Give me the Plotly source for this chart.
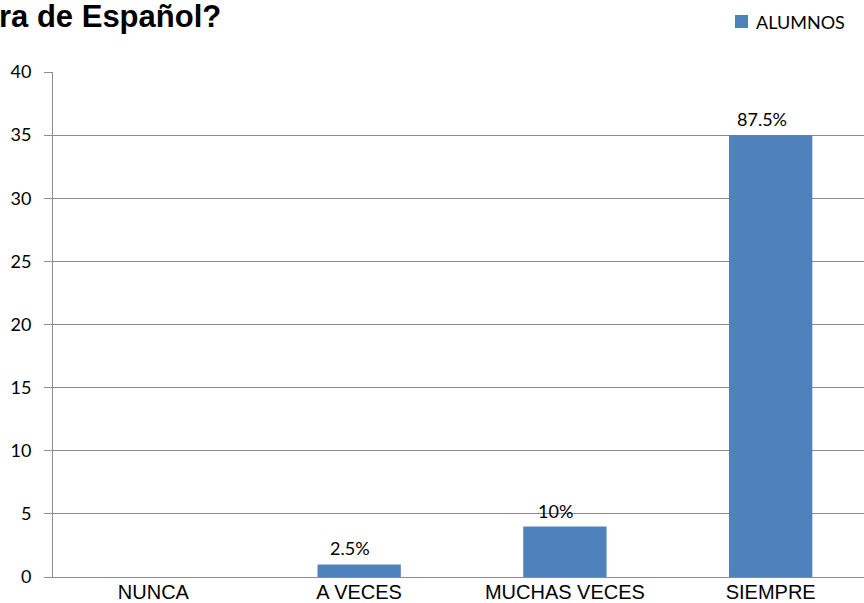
import plotly.graph_objects as go

categories = ["NUNCA", "A VECES", "MUCHAS VECES", "SIEMPRE"]
alumnos = [0, 1, 4, 35]
labels = ["", "2.5%", "10%", "87.5%"]
y_ticks = [0, 5, 10, 15, 20, 25, 30, 35, 40]
series_name = "ALUMNOS"
title_text = "ra de Español?"

W, H = 864, 603
L, R, T, B = 53, 0, 72, 26
PW, PH = W - L - R, H - T - B
BAR_COLOR = "#4F81BD"
GRID = "#8C8C8C"


def px(x):
    return (x - L) / PW


def py(y):
    return (H - B - y) / PH


fig = go.Figure()
fig.add_trace(go.Bar(
    x=list(range(len(categories))), y=alumnos, name=series_name,
    marker=dict(color=BAR_COLOR, line=dict(width=0)),
    width=0.405, showlegend=False,
))

annotations = []
for i, (v, lab) in enumerate(zip(alumnos, labels)):
    if lab:
        annotations.append(dict(
            x=i, y=v, xref="x", yref="y", text=lab, showarrow=False,
            xanchor="center", yanchor="bottom", yshift=3, xshift=-9,
            font=dict(family="Lato, Open Sans, sans-serif", size=18, color="#000000")))

# title (cut off on the left, as in the reference)
annotations.append(dict(
    text="<b>" + title_text + "</b>", xref="paper", yref="paper",
    x=px(0), y=py(17), xanchor="left", yanchor="middle", xshift=-3, showarrow=False,
    font=dict(family="Liberation Sans, Arial, sans-serif", size=31, color="#000000")))

# legend text
annotations.append(dict(
    text=series_name, xref="paper", yref="paper",
    x=px(754), y=py(22), xanchor="left", yanchor="middle", showarrow=False,
    font=dict(family="Lato, Open Sans, sans-serif", size=18, color="#000000")))

shapes = [dict(type="rect", xref="paper", yref="paper",
               x0=px(735), x1=px(748), y0=py(28), y1=py(15),
               fillcolor=BAR_COLOR, line=dict(width=0))]

fig.update_layout(
    width=W, height=H,
    margin=dict(l=L, r=R, t=T, b=B, autoexpand=False),
    plot_bgcolor="white", paper_bgcolor="white",
    showlegend=False,
    xaxis=dict(range=[-0.488, -0.488 + PW / 205.75], tickvals=list(range(len(categories))),
               ticktext=categories,
               showline=True, linecolor=GRID, linewidth=1,
               tickfont=dict(family="Liberation Sans, Arial, sans-serif", size=20, color="#000000"),
               ticks="", showgrid=False, zeroline=False, ticklabelstandoff=-3),
    yaxis=dict(range=[0, 40], tickvals=y_ticks, showline=True, linecolor=GRID, linewidth=1,
               ticks="outside", ticklen=8, tickcolor=GRID,
               gridcolor=GRID, gridwidth=1, ticklabelstandoff=9,
               tickfont=dict(family="Lato, Open Sans, sans-serif", size=18, color="#000000"),
               zeroline=False),
    annotations=annotations,
    shapes=shapes,
)

fig.write_html("out.html", config={"displayModeBar": False},
               post_script="document.body.style.margin='0';document.body.style.overflow='hidden';")
